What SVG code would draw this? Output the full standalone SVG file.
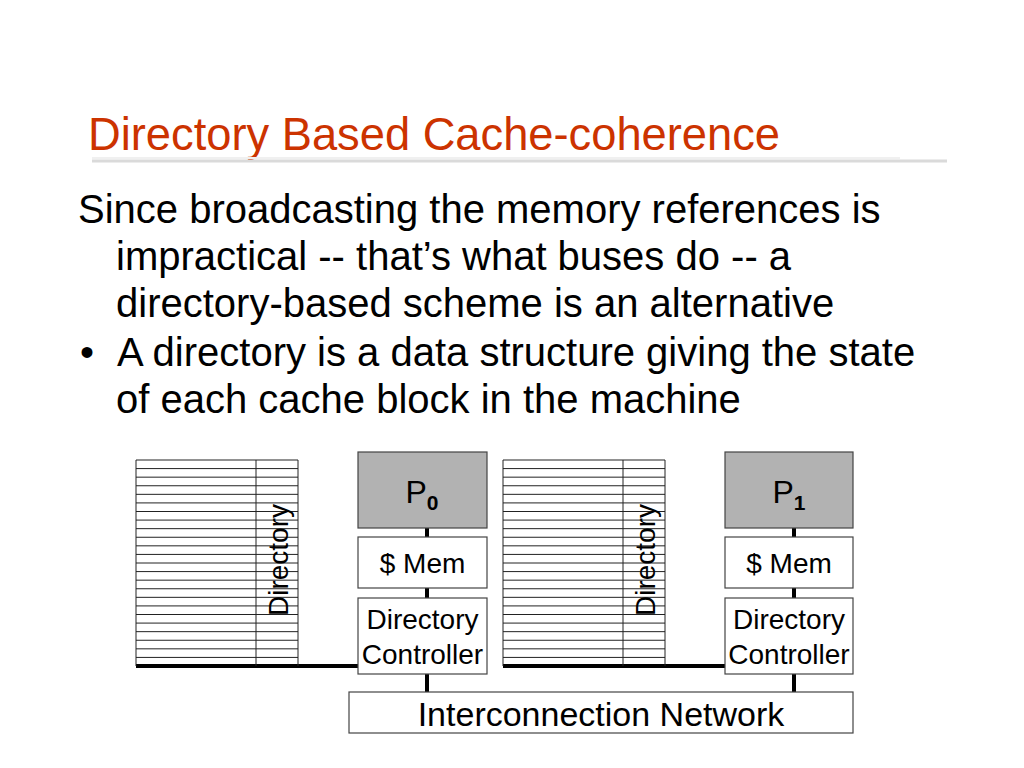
<svg xmlns="http://www.w3.org/2000/svg" width="1024" height="768" viewBox="0 0 1024 768">
<style>
.title{font-family:"Liberation Sans Narrow","Liberation Sans",Arial,sans-serif;font-size:46px;fill:#cc3300}
.body{font-family:"Liberation Sans",Arial,sans-serif;font-size:40px;fill:#000}
.lbl{font-family:"Liberation Sans",Arial,sans-serif;font-size:28px;fill:#000;text-anchor:middle}
.big{font-size:32px}
.net{font-size:34px}
.box{fill:#fff;stroke:#444;stroke-width:1.2}
.proc{fill:#b2b2b2;stroke:#444;stroke-width:1.2}
.grid{stroke:#222;stroke-width:1;fill:none}
.conn{stroke:#000;stroke-width:4;fill:none}
.bus{stroke:#000;stroke-width:4;fill:none}
</style>
<defs>
<g id="gridlines">
<path class="grid" d="M0 0H162M0 8.58H162M0 17.17H162M0 25.75H162M0 34.33H162M0 42.92H162M0 51.5H162M0 60.08H162M0 68.67H162M0 77.25H162M0 85.83H162M0 94.42H162M0 103H162M0 111.58H162M0 120.17H162M0 128.75H162M0 137.33H162M0 145.92H162M0 154.5H162M0 163.08H162M0 171.67H162M0 180.25H162M0 188.83H162M0 197.42H162"/>
<path class="grid" d="M0 0V206M120 0V206M162 0V206" stroke="#444"/>
</g>
</defs>
<rect width="1024" height="768" fill="#fff"/>
<g id="title">
<text class="title" x="88" y="150" textLength="692" lengthAdjust="spacingAndGlyphs">Directory Based Cache-coherence</text>
<rect x="92" y="157" width="808" height="2" fill="#f0f0f0"/>
<rect x="92" y="159.5" width="855" height="3" fill="#dadada"/>
</g>
<g id="bodytext">
<text class="body" x="78" y="223">Since broadcasting the memory references is</text>
<text class="body" x="116" y="270">impractical -- that’s what buses do -- a</text>
<text class="body" x="116" y="317">directory-based scheme is an alternative</text>
<text class="body" x="80" y="366">•</text>
<text class="body" x="117" y="366">A directory is a data structure giving the state</text>
<text class="body" x="116" y="413">of each cache block in the machine</text>
</g>
<g id="connectors">
<path class="bus" d="M136 666H358"/>
<path class="bus" d="M503 666H725"/>
<path class="conn" d="M427 528V537M427 588V598M427 674V692"/>
<path class="conn" d="M794 528V537M794 588V598M794 674V692"/>
</g>
<g id="directory0">
<use href="#gridlines" x="136" y="460"/>
<text class="lbl" transform="translate(288 560) rotate(-90)">Directory</text>
</g>
<g id="directory1">
<use href="#gridlines" x="503" y="460"/>
<text class="lbl" transform="translate(655 560) rotate(-90)">Directory</text>
</g>
<g id="p0">
<rect class="proc" x="358" y="452" width="129" height="76"/>
<text class="lbl big" x="422" y="503">P<tspan style="font-size:21px;font-weight:bold" dy="7">0</tspan></text>
</g>
<g id="mem0">
<rect class="box" x="358" y="537" width="129" height="51"/>
<text class="lbl" x="422.5" y="573">$ Mem</text>
</g>
<g id="ctrl0">
<rect class="box" x="358" y="598" width="129" height="76"/>
<text class="lbl" x="422.5" y="629">Directory</text>
<text class="lbl" x="422.5" y="664">Controller</text>
</g>
<g id="p1">
<rect class="proc" x="725" y="452" width="128" height="76"/>
<text class="lbl big" x="789" y="503">P<tspan style="font-size:21px;font-weight:bold" dy="7">1</tspan></text>
</g>
<g id="mem1">
<rect class="box" x="725" y="537" width="128" height="51"/>
<text class="lbl" x="789" y="573">$ Mem</text>
</g>
<g id="ctrl1">
<rect class="box" x="725" y="598" width="128" height="76"/>
<text class="lbl" x="789" y="629">Directory</text>
<text class="lbl" x="789" y="664">Controller</text>
</g>
<g id="network">
<rect class="box" x="349" y="692" width="504" height="41"/>
<text class="lbl net" x="601" y="726">Interconnection Network</text>
</g>
</svg>
